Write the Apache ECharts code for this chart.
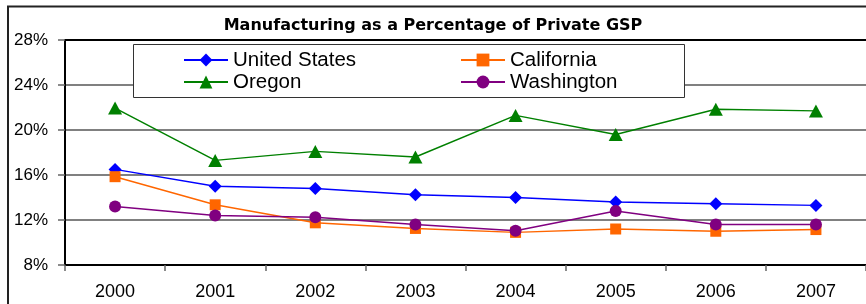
<!DOCTYPE html>
<html>
<head>
<meta charset="utf-8">
<script src="https://cdn.jsdelivr.net/npm/echarts@6/dist/echarts.min.js"></script>
<style>
    html, body { margin: 0; padding: 0; background: #fff; }
    #chart { width: 866px; height: 304px; }
</style>
</head>
<body>
<div id="chart"></div>
<script>
// values (percent of private GSP)
const years = ['2000', '2001', '2002', '2003', '2004', '2005', '2006', '2007'];
const unitedStates = [16.5, 15.0, 14.8, 14.25, 14.0, 13.6, 13.45, 13.3];
const california = [15.85, 13.35, 11.75, 11.25, 10.9, 11.2, 11.0, 11.15];
const oregon = [21.95, 17.3, 18.1, 17.6, 21.3, 19.6, 21.85, 21.7];
const washington = [13.2, 12.4, 12.25, 11.6, 11.05, 12.8, 11.6, 11.6];

const font = 'Liberation Sans, Arial, sans-serif';

const chart = echarts.init(document.getElementById('chart'), null, {renderer: 'canvas'});

function line_series(name, data, color, symbol, size) {
    return {
        type: 'line',
        name: name,
        data: data,
        symbol: symbol,
        symbolSize: size,
        showAllSymbol: true,
        animation: false,
        itemStyle: {color: color},
        lineStyle: {color: color, width: 1.5}
    };
}

const legend_text = {fontFamily: font, fontSize: 20.5, color: '#000', lineHeight: 22};

chart.setOption({
    animation: false,
    backgroundColor: '#fff',
    title: {
        text: 'Manufacturing as a Percentage of Private GSP',
        left: 'center',
        top: 13,
        textStyle: {fontFamily: 'DejaVu Sans', fontSize: 16, fontWeight: 'bold', color: '#000'}
    },
    graphic: [{
        type: 'rect',
        z: 0,
        silent: true,
        shape: {x: 8, y: 6.5, width: 920, height: 400},
        style: {fill: null, stroke: '#222', lineWidth: 2}
    }, {
        type: 'rect',
        z: 3,
        silent: true,
        shape: {x: 133.5, y: 44.5, width: 551, height: 53},
        style: {fill: '#fff', stroke: '#333', lineWidth: 1}
    }],
    legend: [{
        orient: 'vertical',
        left: 183,
        top: 49,
        padding: 0,
        itemGap: 0,
        itemWidth: 44,
        itemHeight: 16,
        z: 5,
        textStyle: legend_text,
        data: ['United States', 'Oregon']
    }, {
        orient: 'vertical',
        left: 460,
        top: 49,
        padding: 0,
        itemGap: 0,
        itemWidth: 44,
        itemHeight: 16,
        z: 5,
        textStyle: legend_text,
        data: ['California', 'Washington']
    }],
    grid: {
        left: 65,
        top: 40,
        width: 805,
        height: 225,
        show: false
    },
    xAxis: {
        type: 'category',
        data: years,
        boundaryGap: true,
        axisLine: {show: true, lineStyle: {color: '#000', width: 2}},
        axisTick: {show: true, length: 6, lineStyle: {color: '#666', width: 1.5}},
        axisLabel: {fontFamily: font, fontSize: 18, color: '#000', margin: 18},
        splitLine: {show: false}
    },
    yAxis: {
        type: 'value',
        min: 8,
        max: 28,
        interval: 4,
        axisLine: {show: true, lineStyle: {color: '#000', width: 2}},
        axisTick: {show: true, length: 7, lineStyle: {color: '#666', width: 1.5}},
        axisLabel: {fontFamily: font, fontSize: 17, color: '#000', margin: 17, formatter: '{value}%'},
        splitLine: {
            show: true,
            lineStyle: {color: ['#000', '#808080', '#808080', '#808080', '#808080', '#000'], width: 2}
        }
    },
    series: [
        line_series('United States', unitedStates, '#0000ff', 'diamond', 13),
        line_series('California', california, '#ff6600', 'rect', 11),
        line_series('Oregon', oregon, '#008000', 'triangle', [14, 13]),
        line_series('Washington', washington, '#800080', 'circle', 12)
    ]
});
</script>
</body>
</html>
